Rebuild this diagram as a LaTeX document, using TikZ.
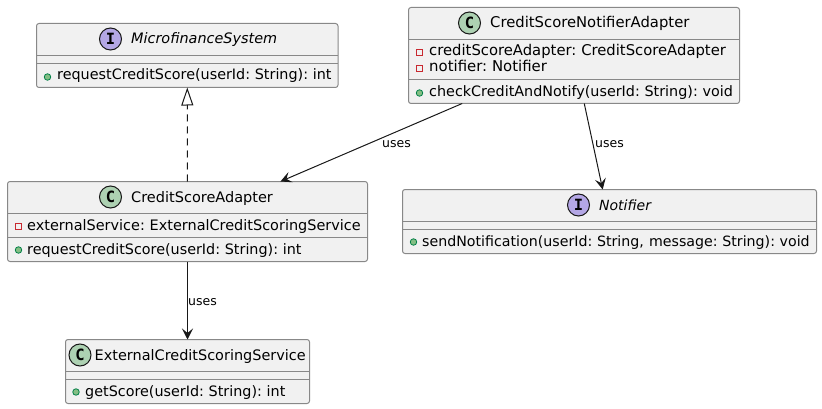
\documentclass[tikz,border=0pt]{standalone}
\usepackage{fontspec}
\setmainfont[WordSpace=0.7]{DejaVu Sans}
\newfontfamily\iconfont{DejaVu Sans Mono}
\usetikzlibrary{%
  arrows.meta
}
\definecolor{boxfill}{HTML}{F1F1F1}
\definecolor{boxline}{HTML}{888888}
\definecolor{inkline}{HTML}{181818}
\definecolor{clsfill}{HTML}{ADD1B2}
\definecolor{itffill}{HTML}{B4A7E5}
\definecolor{pubfill}{HTML}{84BE84}
\definecolor{publine}{HTML}{038048}
\definecolor{privline}{HTML}{C82930}
\tikzstyle{box}=[draw=boxline,fill=boxfill,line width=1pt,rounded corners=2.5pt,inner sep=0pt,outer sep=0pt]
\tikzstyle{sep}=[draw=boxline,line width=1pt]
\tikzstyle{icon}=[circle,draw=inkline,line width=1pt,minimum size=22pt,inner sep=0pt,font=\iconfont\bfseries\fontsize{15.5}{16}\selectfont]
\tikzstyle{ttl}=[anchor=base west,inner sep=0pt,font=\fontsize{#1}{16}\selectfont]
\tikzstyle{ittl}=[anchor=base west,inner sep=0pt,font=\itshape\fontsize{#1}{16}\selectfont]
\tikzstyle{pub}=[circle,draw=publine,fill=pubfill,line width=.8pt,minimum size=6.5pt,inner sep=0pt]
\tikzstyle{priv}=[rectangle,draw=privline,line width=.8pt,minimum size=6pt,inner sep=0pt]
\tikzstyle{lbl}=[anchor=base west,inner sep=0pt,font=\fontsize{12.5}{14}\selectfont]
\tikzstyle{uses}=[draw=inkline,line width=1pt,-{Stealth[length=11pt,width=11pt,inset=4.5pt]}]
\begin{document}
\begin{tikzpicture}[x=1pt,y=-1pt]
\useasboundingbox (0,0) rectangle (822,409);
% class boxes
\node[box,minimum width=301.5pt,minimum height=64pt](ms)at(187.25,55.5){};
\node[box,minimum width=360pt,minimum height=80pt](csa)at(187.5,221.5){};
\node[box,minimum width=244pt,minimum height=64pt](ecss)at(187.5,371.5){};
\node[box,minimum width=331pt,minimum height=96pt](csna)at(574,55.5){};
\node[box,minimum width=414pt,minimum height=64pt](ntf)at(609.5,221.5){};
\foreach \b/\y in {ms/55.5,ms/63.5,csa/213.5,csa/237.5,ecss/371.5,ecss/379.5,csna/39.5,csna/79.5,ntf/221.5,ntf/229.5}
  \draw[sep] (\b.west|-0,\y) -- (\b.east|-0,\y);
% titles
\node[icon,fill=itffill](msi)at(110.5,39){I};
\node[ittl=14.4](mst)at(131,44){MicrofinanceSystem};
\node[icon,fill=clsfill](csai)at(110.5,197){C};
\node[ttl=14.5](csat)at(131,202){CreditScoreAdapter};
\node[icon,fill=clsfill](ecssi)at(80,355){C};
\node[ttl=14.45](ecsst)at(94.5,360){ExternalCreditScoringService};
\node[icon,fill=clsfill](csnai)at(469.5,23){C};
\node[ttl=14.8](csnat)at(490,28){CreditScoreNotifierAdapter};
\node[icon,fill=itffill](ntfi)at(578.5,205){I};
\node[ittl=14](ntft)at(599,210){Notifier};
% members
\node[pub](msp)at(47.5,77){};
\node[ttl=14.35](msm)at(57,80){requestCreditScore(userId: String): int};
\node[priv](csap)at(18.5,226){};
\node[ttl=14.45](csaf)at(27,230){externalService: ExternalCreditScoringService};
\node[pub](csaq)at(18.5,250){};
\node[ttl=14.35](csam)at(27,254){requestCreditScore(userId: String): int};
\node[pub](ecssp)at(76,392){};
\node[ttl=14.35](ecssm)at(85,396){getScore(userId: String): int};
\node[priv](csnap)at(419.5,52){};
\node[ttl=14.8](csnaf)at(429,56){creditScoreAdapter: CreditScoreAdapter};
\node[priv](csnaq)at(419.5,68){};
\node[ttl=14.9](csnag)at(429,72){notifier: Notifier};
\node[pub](csnar)at(419.5,93){};
\node[ttl=14.35](csnam)at(429,97){checkCreditAndNotify(userId: String): void};
\node[pub](ntfp)at(413.5,242){};
\node[ttl=14.2](ntfm)at(422,246){sendNotification(userId: String,\hspace{2pt} message: String): void};
% links
\draw[draw=inkline,line width=1pt,dash pattern=on 7pt off 5pt,-{Triangle[open,length=18pt,width=12pt,fill=white]}]
  (csa)--(ms);
\draw[uses](csna)--(csa);
\draw[uses](csna)--(ntf);
\draw[uses](csa)--(ecss);
\node[lbl](l1)at(382,147){uses};
\node[lbl](l2)at(595,147){uses};
\node[lbl](l3)at(188,305){uses};
\end{tikzpicture}
\end{document}
